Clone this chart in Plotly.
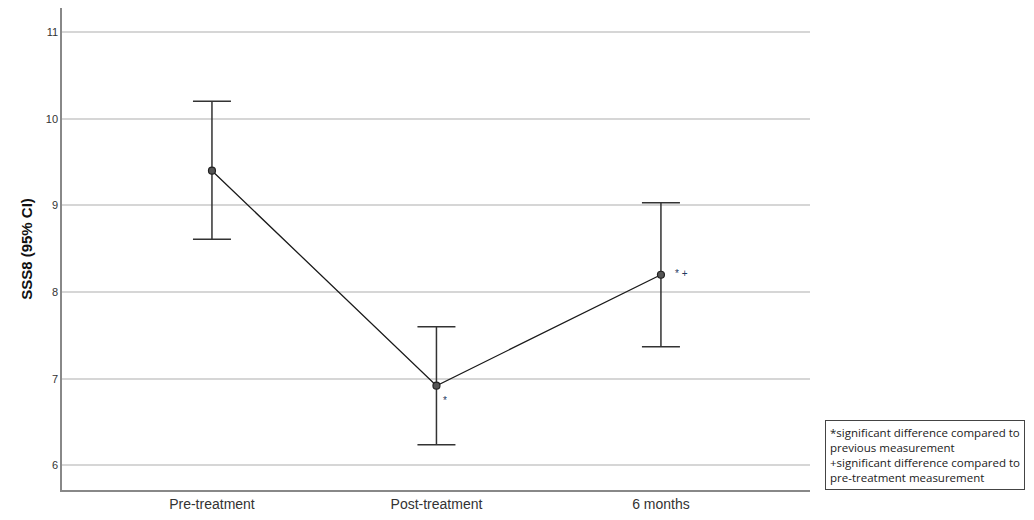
import plotly.graph_objects as go

categories = ["Pre-treatment", "Post-treatment", "6 months"]
means = [9.40, 6.92, 8.20]
ci_upper = [10.20, 7.60, 9.03]
ci_lower = [8.61, 6.24, 7.37]
sig_marks = ["", "*", "* +"]
y_ticks = [6, 7, 8, 9, 10, 11]
legend_lines = ["*significant difference compared to", "previous measurement",
                "+significant difference compared to", "pre-treatment measurement"]

xi = list(range(len(categories)))
err_plus = [u - m for u, m in zip(ci_upper, means)]
err_minus = [m - l for m, l in zip(means, ci_lower)]

fig = go.Figure()
fig.add_trace(go.Scatter(
    x=xi, y=means, mode="lines+markers",
    line=dict(color="#1a1a1a", width=1.3),
    marker=dict(size=7, color="#555555", line=dict(color="#222222", width=1.2)),
    error_y=dict(type="data", symmetric=False, array=err_plus, arrayminus=err_minus,
                 color="#333333", thickness=1.5, width=19),
    showlegend=False, hoverinfo="skip"))

for i, s in enumerate(sig_marks):
    if s:
        fig.add_annotation(x=i, y=means[i], xref="x", yref="y", text=s, showarrow=False,
                           xanchor="left", xshift=12 if i == 2 else 5,
                           yshift=1 if i == 2 else -15,
                           font=dict(size=10, color="#1f3a5f", family="Liberation Sans"))

fig.add_annotation(xref="paper", yref="paper", x=1.02, y=0, xanchor="left", yanchor="bottom",
                   text="<br>".join(legend_lines),
                   align="left", showarrow=False,
                   bordercolor="#444444", borderwidth=1, borderpad=4, bgcolor="white",
                   font=dict(size=11.5, color="#222222", family="Open Sans"))

fig.update_layout(
    width=1034, height=520, margin=dict(l=62, r=224, t=8, b=30),
    paper_bgcolor="white", plot_bgcolor="white",
    font=dict(family="Liberation Sans", color="#333333"),
    xaxis=dict(range=[-0.668, 2.664], tickvals=xi, ticktext=categories,
               showgrid=False, zeroline=False, showline=True, linecolor="#888888",
               linewidth=1.5, ticks="", tickfont=dict(size=14, color="#333333")),
    yaxis=dict(range=[5.717, 11.277], tickvals=y_ticks, showgrid=True,
               gridcolor="#d6d6d6", gridwidth=1.5, zeroline=False, showline=True,
               linecolor="#888888", linewidth=1.5, ticks="",
               tickfont=dict(size=11, color="#333333"),
               title=dict(text="<b>SSS8 (95% CI)</b>", font=dict(size=15, color="#111111"),
                          standoff=10)),
)

fig.write_html("out.html")
